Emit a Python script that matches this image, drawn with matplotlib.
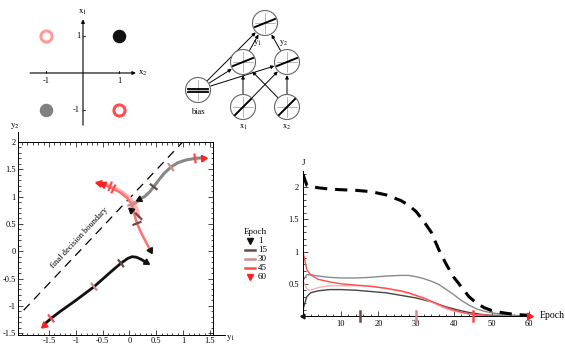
# ================================================================
# 0. Section: Imports
# ================================================================
import numpy as np
import matplotlib.pyplot as plt
from matplotlib.patches import Circle

plt.rcParams['font.family'] = ['Liberation Serif', 'DejaVu Serif']
plt.rcParams['mathtext.fontset'] = 'stix'

W, H = 565, 346


# ================================================================
# 1. Section: Data
# ================================================================
# XOR inputs (x1 vertical, x2 horizontal)
xor_x2 = [-1, 1, -1, 1]
xor_x1 = [1, 1, -1, -1]
xor_colors = ['#ff9a9a', '#111111', '#808080', '#ff4d4d']
xor_filled = [False, True, True, False]

# hidden-space trajectories (y1, y2)
black_y1 = [0.30, 0.22, 0.13, 0.05, -0.03, -0.16, -0.35, -0.66, -1.00, -1.30, -1.46, -1.60]
black_y2 = [-0.20, -0.15, -0.11, -0.10, -0.13, -0.22, -0.38, -0.65, -0.90, -1.11, -1.23, -1.35]
black_marks = [5, 7, 10]

gray_y1 = [0.18, 0.28, 0.37, 0.45, 0.55, 0.65, 0.77, 0.90, 1.05, 1.22, 1.36]
gray_y2 = [0.95, 1.00, 1.08, 1.18, 1.31, 1.43, 1.54, 1.62, 1.67, 1.70, 1.71]
gray_marks = [3, 6, 9]

red_y1 = [0.38, 0.30, 0.21, 0.14, 0.10, 0.07, 0.04, -0.05, -0.18, -0.30, -0.42, -0.50]
red_y2 = [0.03, 0.18, 0.35, 0.51, 0.64, 0.76, 0.87, 0.98, 1.08, 1.14, 1.20, 1.23]
red_marks = [3, 6, 9]

pink_y1 = [0.03, 0.10, 0.17, 0.15, 0.09, 0.00, -0.13, -0.26, -0.36, -0.47, -0.56]
pink_y2 = [0.75, 0.69, 0.64, 0.74, 0.86, 0.98, 1.08, 1.15, 1.19, 1.23, 1.25]
pink_marks = [2, 4, 8]

boundary_y1 = [-1.97, 0.99]
boundary_y2 = [-1.08, 2.00]

# cost per input vs epoch
epochs = [0, 1, 2, 4, 7, 10, 14, 18, 22, 26, 28, 30, 32, 34, 36, 38, 40, 42, 44, 46, 48, 50, 53, 56, 60]
J_gray = [0.55, 0.64, 0.64, 0.62, 0.60, 0.59, 0.59, 0.60, 0.62, 0.63, 0.63, 0.61, 0.58, 0.54, 0.49,
          0.41, 0.33, 0.24, 0.17, 0.11, 0.075, 0.05, 0.025, 0.01, 0.003]
J_dark = [0.10, 0.30, 0.36, 0.39, 0.41, 0.41, 0.40, 0.38, 0.36, 0.32, 0.30, 0.28, 0.25, 0.22, 0.18,
          0.14, 0.11, 0.08, 0.055, 0.035, 0.02, 0.012, 0.006, 0.003, 0.001]
J_pink = [0.55, 0.42, 0.40, 0.44, 0.47, 0.47, 0.47, 0.46, 0.43, 0.38, 0.35, 0.31, 0.27, 0.22, 0.16,
          0.11, 0.075, 0.05, 0.03, 0.017, 0.01, 0.006, 0.003, 0.001, 0.0]
J_red = [1.00, 0.72, 0.64, 0.57, 0.53, 0.50, 0.48, 0.46, 0.43, 0.39, 0.36, 0.32, 0.28, 0.23, 0.18,
         0.13, 0.09, 0.06, 0.035, 0.02, 0.012, 0.007, 0.003, 0.001, 0.0]
J_total = [2.20, 2.03, 2.01, 1.99, 1.97, 1.96, 1.95, 1.93, 1.88, 1.79, 1.72, 1.62, 1.47, 1.30, 1.03,
           0.80, 0.60, 0.45, 0.30, 0.20, 0.13, 0.085, 0.05, 0.025, 0.01]

mark_epochs = [15, 30, 45]
mark_colors = ['#6e4848', '#d08c8c', '#ff4a4a']
legend_labels = ['1', '15', '30', '45', '60']

# network layout (pixels)
nodes = {'out': (265, 23), 'h1': (243, 62), 'h2': (287, 62),
         'bias': (198, 90), 'x1': (243, 107), 'x2': (287, 107)}
edges = [('bias', 'out'), ('bias', 'h1'), ('bias', 'h2'), ('x1', 'h1'), ('x1', 'h2'),
         ('x2', 'h1'), ('x2', 'h2'), ('h1', 'out'), ('h2', 'out')]


# ================================================================
# 2. Section: Helpers
# ================================================================
fig = plt.figure(figsize=(W / 100, H / 100), dpi=100)


def px_axes(x0, y0, x1, y1):
    return fig.add_axes([x0 / W, 1 - y1 / H, (x1 - x0) / W, (y1 - y0) / H])


def tri(ax, x, y, dx, dy, color, ms=5):
    ang = np.degrees(np.arctan2(dy, dx)) - 90
    ax.plot([x], [y], marker=(3, 0, ang), ms=ms, color=color, mec=color, clip_on=False, zorder=6)


def epoch_mark(ax, xs, ys, i, color, half=0.09):
    tx, ty = xs[i + 1] - xs[i - 1], ys[i + 1] - ys[i - 1]
    n = np.hypot(tx, ty)
    px, py = -ty / n * half, tx / n * half
    ax.plot([xs[i] - px, xs[i] + px], [ys[i] - py, ys[i] + py], color=color, lw=1.6, zorder=5,
            solid_capstyle='butt')


# ================================================================
# 3. Section: XOR inputs (top left)
# ================================================================
ax_a = px_axes(15, 5, 150, 132)
ax_a.set_xlim(-1.863, 1.836)
ax_a.set_ylim(-1.595, 1.838)
ax_a.axis('off')
arr = dict(arrowstyle='-|>', lw=0.8, color='k', mutation_scale=5, shrinkA=0, shrinkB=0)
ax_a.annotate('', xy=(1.45, 0), xytext=(-1.45, 0), arrowprops=arr)
ax_a.annotate('', xy=(0, 1.45), xytext=(0, -1.41), arrowprops=arr)
for v in (-1, 1):
    ax_a.plot([v, v], [0, 0.05], color='k', lw=0.6)
    ax_a.plot([0, 0.05], [v, v], color='k', lw=0.6)
    ax_a.text(v, -0.1, str(v), ha='center', va='top', fontsize=6)
    ax_a.text(-0.08, v, str(v), ha='right', va='center', fontsize=6)
ax_a.text(0, 1.52, r'$\mathrm{x}_1$', ha='center', va='bottom', fontsize=6.5)
ax_a.text(1.52, 0, r'$\mathrm{x}_2$', ha='left', va='center', fontsize=6.5)
for x2, x1, c, filled in zip(xor_x2, xor_x1, xor_colors, xor_filled):
    ax_a.plot(x2, x1, 'o', ms=8 if not filled else 7.5, mfc=c if filled else 'white',
              mec=c, mew=2.2)


# ================================================================
# 4. Section: Hidden space trajectories (bottom left)
# ================================================================
ax_c = px_axes(18, 142, 213, 335)
ax_c.set_xlim(-2.076, 1.555)
ax_c.set_ylim(-1.534, 2.0)
ax_c.plot(boundary_y1, boundary_y2, color='k', lw=0.9, dashes=(7, 5))
ax_c.text(-0.93, 0.24, 'final decision boundary', rotation=47, ha='center', va='center', fontsize=6)

curves = [(black_y1, black_y2, '#111111', 2.0, black_marks),
          (gray_y1, gray_y2, '#878787', 2.2, gray_marks),
          (pink_y1, pink_y2, '#ffb4b4', 2.6, pink_marks),
          (red_y1, red_y2, '#ff7070', 1.8, red_marks)]
for ys1, ys2, col, lw, marks in curves:
    ax_c.plot(ys1, ys2, color=col, lw=lw, solid_capstyle='round', solid_joinstyle='round', zorder=3)
    for i, mc in zip(marks, mark_colors):
        epoch_mark(ax_c, ys1, ys2, i, mc)
    tri(ax_c, ys1[0], ys2[0], ys1[0] - ys1[1], ys2[0] - ys2[1], '#111111', ms=5)
    tri(ax_c, ys1[-1], ys2[-1], ys1[-1] - ys1[-2], ys2[-1] - ys2[-2], '#ff2020', ms=5.5)

ticks = [-1.5, -1, -0.5, 0, 0.5, 1, 1.5]
fmt = lambda v: ('%g' % v)
ax_c.set_xticks(ticks, [fmt(v) for v in ticks])
ax_c.set_yticks(ticks + [2], [fmt(v) for v in ticks + [2]])
ax_c.set_xticks(np.arange(-2.0, 1.56, 0.1), minor=True)
ax_c.set_yticks(np.arange(-1.5, 2.01, 0.1), minor=True)
ax_c.tick_params(which='both', direction='in', top=True, right=True, labelsize=6, pad=1.5, width=0.5)
ax_c.tick_params(which='major', length=3.5)
ax_c.tick_params(which='minor', length=1.8)
for s in ax_c.spines.values():
    s.set_linewidth(0.7)
ax_c.plot([-2.076, -2.076], [2.0, 2.18], color='k', lw=0.7, clip_on=False)
ax_c.plot([1.555, 1.78], [-1.534, -1.534], color='k', lw=0.7, clip_on=False)
ax_c.text(-2.13, 2.2, r'$\mathrm{y}_2$', ha='center', va='bottom', fontsize=6.5)
ax_c.text(1.80, -1.58, r'$\mathrm{y}_1$', ha='left', va='center', fontsize=6.5)


# ================================================================
# 5. Section: Cost vs epoch (right)
# ================================================================
ax_d = px_axes(303, 171, 529.3, 316)
ax_d.set_xlim(0, 60)
ax_d.set_ylim(0, 2.25)
ax_d.plot(epochs, J_gray, color='#8a8a8a', lw=1.0)
ax_d.plot(epochs, J_dark, color='#444444', lw=1.0)
ax_d.plot(epochs, J_pink, color='#ffb0b0', lw=1.0)
ax_d.plot(epochs, J_red, color='#ff4d4d', lw=1.0)
ax_d.plot(epochs, J_total, color='k', lw=2.2, dashes=(4, 2.6))
for sp in ('top', 'right'):
    ax_d.spines[sp].set_visible(False)
for sp in ('left', 'bottom'):
    ax_d.spines[sp].set_linewidth(0.7)
ax_d.set_xticks([10, 20, 30, 40, 50, 60])
ax_d.set_yticks([0.5, 1, 1.5, 2], ['0.5', '1', '1.5', '2'])
ax_d.set_xticks(np.arange(0, 61, 2), minor=True)
ax_d.set_yticks(np.arange(0, 2.25, 0.1), minor=True)
ax_d.tick_params(which='both', direction='in', labelsize=6, pad=3, width=0.5)
ax_d.tick_params(which='major', length=3.5)
ax_d.tick_params(which='minor', length=1.8)
for e, mc in zip(mark_epochs, mark_colors):
    ax_d.plot([e, e], [-0.08, 0.08], color=mc, lw=1.8, clip_on=False, zorder=5)
tri(ax_d, 60, 0, 1, 0, '#ff2020', ms=5.5)
tri(ax_d, 0, 0, -1, 0, '#111111', ms=4)
ax_d.text(0, 2.31, 'J', ha='center', va='bottom', fontsize=6.5)
ax_d.text(62.8, 0, 'Epoch', ha='left', va='center', fontsize=7)


# ================================================================
# 6. Section: Network diagram and legend (figure pixels)
# ================================================================
ov = fig.add_axes([0, 0, 1, 1])
ov.set_xlim(0, W)
ov.set_ylim(H, 0)
ov.axis('off')
R = 12.5
for a, b in edges:
    ov.annotate('', xy=nodes[b], xytext=nodes[a],
                arrowprops=dict(arrowstyle='-|>', lw=0.7, color='k', mutation_scale=5,
                                shrinkA=9.5, shrinkB=9.5))
for name, (cx, cy) in nodes.items():
    ov.add_patch(Circle((cx, cy), R, fc='white', ec='#666666', lw=0.8, zorder=3))
    ov.plot([cx - 10, cx + 10], [cy, cy], color='#999999', lw=0.5, zorder=4)
    ov.plot([cx, cx], [cy - 10, cy + 10], color='#999999', lw=0.5, zorder=4)
    if name == 'bias':
        for d in (-1.5, 1.5):
            ov.plot([cx - 10, cx + 10], [cy + d, cy + d], color='k', lw=1.3, zorder=5)
    elif name in ('x1', 'x2'):
        ov.plot([cx - 8, cx + 8], [cy + 8, cy - 8], color='k', lw=1.4, zorder=5)
    else:
        ov.plot([cx - 10, cx + 10], [cy + 4, cy - 4], color='k', lw=1.4, zorder=5)
ov.text(198, 112, 'bias', ha='center', va='center', fontsize=6)
ov.text(243, 127, r'$\mathrm{x}_1$', ha='center', va='center', fontsize=6)
ov.text(287, 127, r'$\mathrm{x}_2$', ha='center', va='center', fontsize=6)
ov.text(257, 43, r'$\mathrm{y}_1$', ha='center', va='center', fontsize=6)
ov.text(284, 43, r'$\mathrm{y}_2$', ha='center', va='center', fontsize=6)

# legend
ov.text(244, 232, 'Epoch', ha='left', va='center', fontsize=6.5)
leg_colors = ['#111111'] + mark_colors + ['#ff2020']
for k, (lab, c) in enumerate(zip(legend_labels, leg_colors)):
    yy = 241 + 9 * k
    if k in (0, 4):
        ov.plot(250, yy, marker='v', ms=5, color=c)
    else:
        ov.plot([245, 255], [yy, yy], color=c, lw=1.8)
    ov.text(258, yy, lab, ha='left', va='center', fontsize=6.5)

fig.savefig('out.png', dpi=100)
